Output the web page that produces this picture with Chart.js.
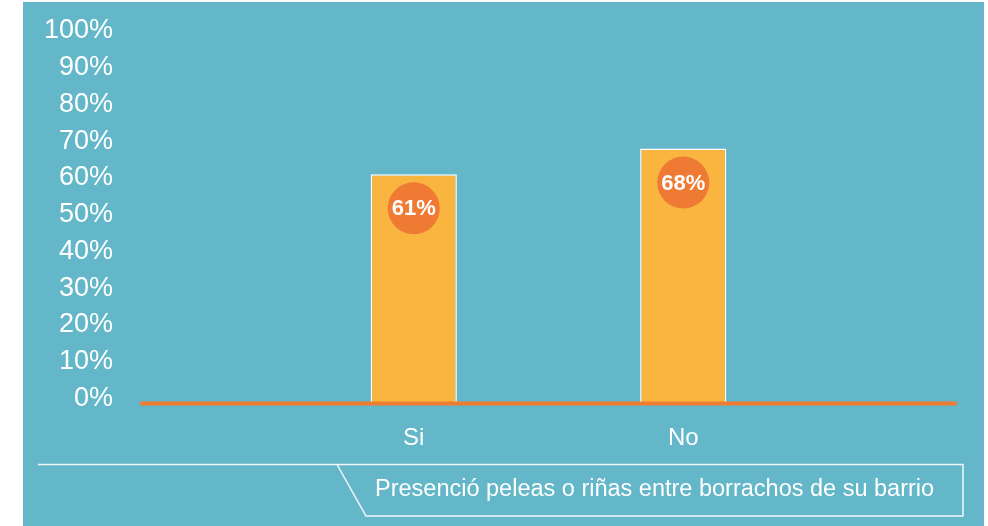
<!DOCTYPE html>
<html>
<head>
<meta charset="utf-8">
<script src="https://cdn.jsdelivr.net/npm/chart.js@4.4.1/dist/chart.umd.min.js"></script>
<style>
  html, body { margin: 0; padding: 0; background: #ffffff; }
  #wrap { position: relative; width: 988px; height: 526px; }
</style>
</head>
<body>
<div id="wrap"><canvas id="chart" width="988" height="526"></canvas></div>
<script>
const categories = ['Si', 'No'];
const values = [61, 68];
const yTicks = [0, 10, 20, 30, 40, 50, 60, 70, 80, 90, 100];
const caption = 'Presenció peleas o riñas entre borrachos de su barrio';

const teal = '#63b7c8';
const barColor = '#f9b540';
const dotColor = '#ef7a33';
const lineColor = '#f07c30';
const fontName = '"Liberation Sans", Arial, Helvetica, sans-serif';

// teal panel + bottom caption frame
const backdrop = {
    id: 'backdrop',
    beforeDraw(chart) {
        const ctx = chart.ctx;
        ctx.save();
        ctx.fillStyle = teal;
        ctx.fillRect(23, 2, 961, 524);
        ctx.restore();
    },
    afterDraw(chart) {
        const ctx = chart.ctx;
        ctx.save();
        ctx.strokeStyle = 'rgba(255,255,255,0.9)';
        ctx.lineWidth = 1.5;
        ctx.beginPath();
        ctx.moveTo(38, 464.5);
        ctx.lineTo(963, 464.5);
        ctx.lineTo(963, 516);
        ctx.lineTo(366, 516);
        ctx.lineTo(337, 464.5);
        ctx.stroke();
        ctx.fillStyle = '#ffffff';
        ctx.font = '23.5px ' + fontName;
        ctx.textBaseline = 'middle';
        ctx.textAlign = 'left';
        ctx.fillText(caption, 375, 490);
        ctx.restore();
    }
};

// orange base line, wider than the plot area
const baseLine = {
    id: 'baseLine',
    afterDatasetsDraw(chart) {
        const ctx = chart.ctx;
        const y = chart.scales.y.getPixelForValue(0) + 5;
        const xs = chart.scales.x;
        const half = (xs.getPixelForValue(1) - xs.getPixelForValue(0)) / 2;
        ctx.save();
        ctx.strokeStyle = lineColor;
        ctx.lineWidth = 4;
        ctx.beginPath();
        ctx.moveTo(chart.chartArea.left - half - 4, y);
        ctx.lineTo(chart.chartArea.right + half + 4, y);
        ctx.stroke();
        ctx.restore();
    }
};

// circle badges with the percentage
const badges = {
    id: 'badges',
    afterDatasetsDraw(chart) {
        const ctx = chart.ctx;
        const meta = chart.getDatasetMeta(0);
        ctx.save();
        meta.data.forEach((bar, i) => {
            const cx = bar.x;
            const cy = bar.y + 34;
            ctx.fillStyle = dotColor;
            ctx.beginPath();
            ctx.arc(cx, cy, 26, 0, Math.PI * 2);
            ctx.fill();
            ctx.fillStyle = '#ffffff';
            ctx.font = 'bold 22px ' + fontName;
            ctx.textAlign = 'center';
            ctx.textBaseline = 'middle';
            ctx.fillText(values[i] + '%', cx, cy + 1);
        });
        ctx.restore();
    }
};

new Chart(document.getElementById('chart').getContext('2d'), {
    type: 'bar',
    data: {
        labels: categories,
        datasets: [{
            data: values,
            base: -1.5,
            backgroundColor: barColor,
            borderColor: '#ffffff',
            borderWidth: 1.5,
            borderSkipped: 'bottom',
            barPercentage: 0.32,
            categoryPercentage: 1
        }]
    },
    options: {
        responsive: false,
        animation: false,
        events: [],
        layout: { padding: { top: 31, right: 170, bottom: 62, left: 0 } },
        plugins: { legend: { display: false }, tooltip: { enabled: false } },
        scales: {
            x: {
                grid: { display: false, drawTicks: false },
                border: { display: false },
                ticks: {
                    color: '#ffffff',
                    padding: 20,
                    font: { family: fontName, size: 24 }
                },
                afterFit(scale) { scale.height = 60; }
            },
            y: {
                min: -1.5,
                max: 100,
                afterBuildTicks(scale) {
                    scale.ticks = yTicks.map(v => ({ value: v }));
                },
                grid: { display: false, drawTicks: false },
                border: { display: false },
                ticks: {
                    color: '#ffffff',
                    padding: 166,
                    font: { family: fontName, size: 27 },
                    callback: v => v + '%'
                },
                afterFit(scale) {
                    scale.width = 279;
                    scale.paddingTop = 0;
                    scale.paddingBottom = 0;
                }
            }
        }
    },
    plugins: [backdrop, baseLine, badges]
});
</script>
</body>
</html>
